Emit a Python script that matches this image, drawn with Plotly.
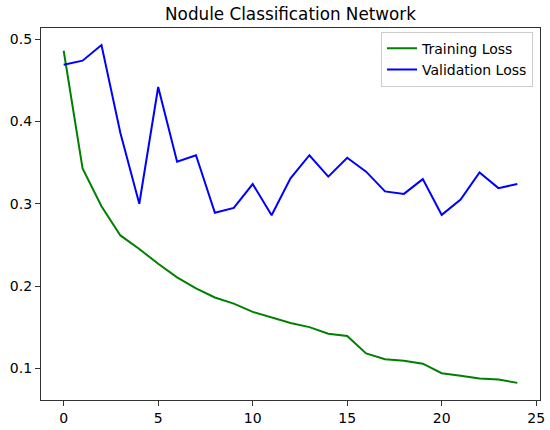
"""Training vs validation loss for the nodule classification network."""

import plotly.graph_objects as go

epochs = list(range(25))

training_loss = [
    0.486, 0.343, 0.297, 0.2615, 0.245, 0.227, 0.2105, 0.197, 0.186, 0.1786,
    0.1685, 0.162, 0.155, 0.150, 0.142, 0.1393, 0.118, 0.111, 0.109, 0.1055,
    0.094, 0.091, 0.0875, 0.0863, 0.0822,
]

validation_loss = [
    0.469, 0.474, 0.493, 0.386, 0.300, 0.442, 0.351, 0.359, 0.289, 0.295,
    0.324, 0.286, 0.331, 0.359, 0.333, 0.356, 0.339, 0.315, 0.312, 0.330,
    0.2865, 0.305, 0.338, 0.319, 0.324,
]

fig = go.Figure()

fig.add_trace(go.Scatter(
    x=epochs,
    y=training_loss,
    mode="lines",
    name="Training Loss",
    line=dict(color="#008000", width=2),
))

fig.add_trace(go.Scatter(
    x=epochs,
    y=validation_loss,
    mode="lines",
    name="Validation Loss",
    line=dict(color="#0000ff", width=2),
))

axis_style = dict(
    showgrid=False,
    zeroline=False,
    showline=True,
    linecolor="#333333",
    linewidth=1.2,
    mirror=True,
    ticks="outside",
    ticklen=5,
    tickwidth=1,
    tickcolor="#333333",
    tickfont=dict(size=14, color="black"),
    automargin=False,
)

fig.update_layout(
    width=550,
    height=430,
    title=dict(
        text="Nodule Classification Network",
        xref="paper",
        x=0.5,
        xanchor="center",
        y=0.967,
        yanchor="middle",
        font=dict(size=16.8, color="black"),
    ),
    font=dict(family="DejaVu Sans", color="black"),
    paper_bgcolor="white",
    plot_bgcolor="white",
    margin=dict(l=41, r=10, t=28, b=30),
    showlegend=True,
    legend=dict(
        x=0.986,
        y=0.99,
        xanchor="right",
        yanchor="top",
        bgcolor="rgba(255,255,255,0.8)",
        bordercolor="#cccccc",
        borderwidth=1,
        font=dict(size=14, color="black"),
        itemwidth=30,
        tracegroupgap=0,
    ),
)

fig.update_xaxes(range=[-1.2, 25.2], dtick=5, tick0=0, **axis_style)
fig.update_yaxes(range=[0.0614, 0.5137], dtick=0.1, tick0=0.1,
                 tickformat=".1f", **axis_style)

# drop the default page margin so the figure sits at the window's corner
fig.write_html(
    "out.html",
    config={"displayModeBar": False},
    post_script="document.body.style.margin='0';",
)
